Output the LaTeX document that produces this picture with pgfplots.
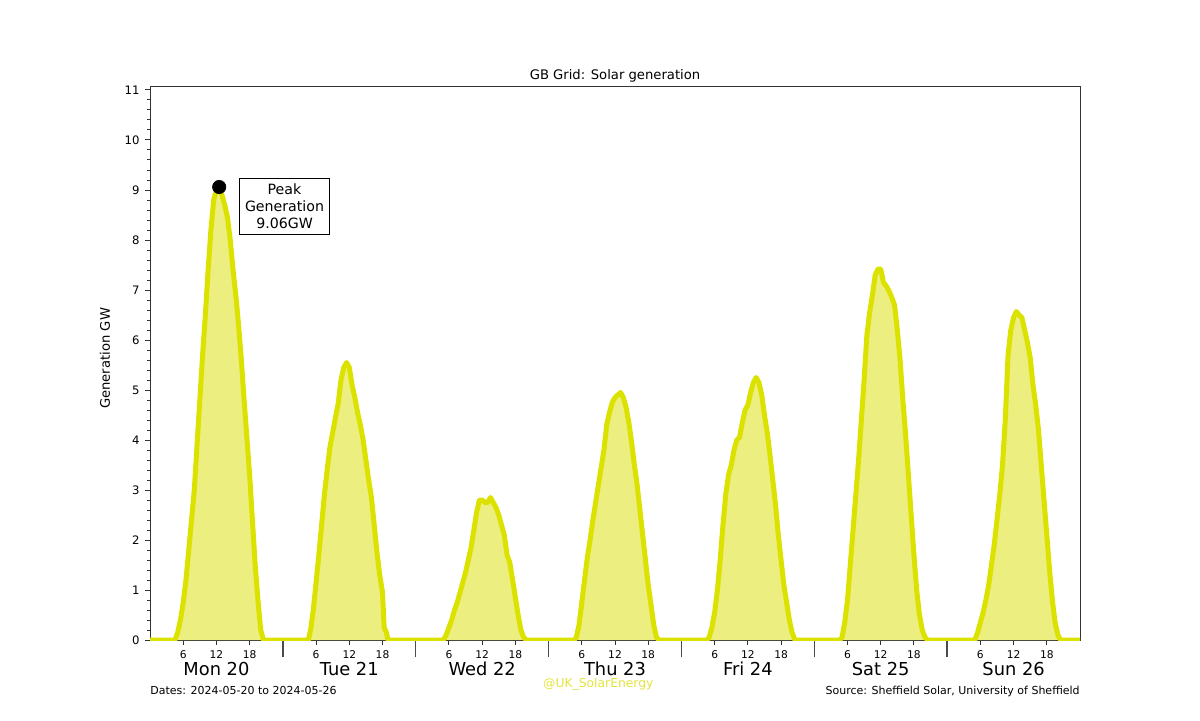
\documentclass[border=0pt]{standalone}
\usepackage{pgfplots}
\pgfplotsset{compat=1.18}
\usepackage{fontspec}
\setmainfont{DejaVu Sans}
\definecolor{solline}{RGB}{220,226,0}
\definecolor{solfill}{RGB}{237,238,128}
\definecolor{wmark}{RGB}{226,228,60}
\pgfplotstableread{
h gw
0 0
4.5 0
5 0.15
5.5 0.4
6 0.75
6.5 1.2
7 1.8
7.5 2.4
8 3.0
8.5 3.9
9 4.8
9.5 5.7
10 6.5
10.5 7.4
11 8.2
11.5 8.8
12 9.0
12.5 9.06
13 8.9
13.5 8.7
14 8.45
14.5 8.0
15 7.4
15.5 6.9
16 6.3
16.5 5.6
17 4.8
17.5 4.05
18 3.3
18.5 2.4
19 1.5
19.5 0.8
20 0.2
20.5 0
28.6 0
29 0.2
29.5 0.6
30 1.15
30.5 1.7
31 2.3
31.5 2.9
32 3.4
32.5 3.85
33 4.15
33.5 4.45
34 4.73
34.5 5.2
35 5.45
35.5 5.55
36 5.45
36.5 5.1
37 4.85
37.5 4.55
38 4.3
38.5 4.0
39 3.6
39.5 3.2
40 2.85
40.5 2.3
41 1.75
41.5 1.3
42 0.95
42.3 0.25
42.7 0.15
43 0
53 0
53.5 0.1
54 0.25
54.5 0.4
55 0.6
55.5 0.75
56 0.95
56.5 1.15
57 1.35
57.5 1.6
58 1.85
58.5 2.2
59 2.55
59.5 2.8
60 2.8
60.5 2.75
61 2.75
61.5 2.85
62 2.75
62.5 2.65
63 2.5
63.5 2.3
64 2.1
64.5 1.7
65 1.55
65.5 1.2
66 0.85
66.5 0.5
67 0.2
67.5 0.05
68 0
76.6 0
77 0.05
77.5 0.3
78 0.75
78.5 1.2
79 1.65
79.5 2.0
80 2.4
80.5 2.75
81 3.1
81.5 3.45
82 3.8
82.5 4.3
83 4.55
83.5 4.75
84 4.85
84.5 4.9
85 4.95
85.5 4.85
86 4.65
86.5 4.35
87 3.95
87.5 3.5
88 3.1
88.5 2.6
89 2.1
89.5 1.6
90 1.1
90.5 0.7
91 0.3
91.5 0.05
92 0
100.6 0
101 0.05
101.5 0.25
102 0.55
102.5 1.0
103 1.6
103.5 2.3
104 2.9
104.5 3.3
105 3.5
105.5 3.8
106 4.0
106.5 4.05
107 4.35
107.5 4.6
108 4.7
108.5 4.95
109 5.15
109.5 5.25
110 5.15
110.5 4.9
111 4.5
111.5 4.15
112 3.7
112.5 3.2
113 2.7
113.5 2.1
114 1.6
114.5 1.1
115 0.75
115.5 0.4
116 0.15
116.5 0
124.6 0
125 0.05
125.5 0.35
126 0.8
126.5 1.5
127 2.2
127.5 2.9
128 3.6
128.5 4.4
129 5.2
129.5 6.1
130 6.55
130.5 6.9
131 7.3
131.5 7.42
132 7.42
132.5 7.15
133 7.08
133.5 6.98
134 6.85
134.5 6.7
135 6.2
135.5 5.6
136 4.8
136.5 4.1
137 3.3
137.5 2.5
138 1.7
138.5 1.0
139 0.5
139.5 0.2
140 0.05
140.5 0
149 0
149.5 0.15
150 0.35
150.5 0.55
151 0.8
151.5 1.1
152 1.5
152.5 1.9
153 2.4
153.5 2.9
154 3.5
154.5 4.4
155 5.7
155.5 6.2
156 6.45
156.5 6.57
157 6.5
157.5 6.45
158 6.2
158.5 5.95
159 5.65
159.5 5.1
160 4.7
160.5 4.2
161 3.5
161.5 2.8
162 2.1
162.5 1.4
163 0.8
163.5 0.35
164 0.1
164.5 0
168 0
}\soldata
\begin{document}
\begin{tikzpicture}
\useasboundingbox (0,0) rectangle (720pt,432pt);
\begin{axis}[
  at={(90pt,48pt)}, anchor=south west,
  scale only axis, width=558pt, height=331.8pt,
  xmin=0, xmax=168, ymin=0, ymax=11.06,
  clip mode=individual,
  axis line style={line width=0.6pt, black!80},
  tick align=outside,
  tick style={line width=0.6pt, black!80},
  xtick={6,12,18,30,36,42,54,60,66,78,84,90,102,108,114,126,132,138,150,156,162},
  xticklabels={6,12,18,6,12,18,6,12,18,6,12,18,6,12,18,6,12,18,6,12,18},
  major tick length=2.8pt,
  extra x ticks={24,48,72,96,120,144},
  extra x tick labels={},
  extra x tick style={major tick length=10pt, tick style={line width=0.9pt, black!70}},
  xtick pos=bottom, ytick pos=left,
  ytick={0,1,...,11},
  minor y tick num=4,
  minor tick length=1.6pt,
  xticklabel style={font=\fontsize{6.4pt}{7pt}\selectfont, yshift=0pt},
  yticklabel style={font=\fontsize{7pt}{8pt}\selectfont},
  /pgf/number format/assume math mode=true,
]
\addplot[draw=none, fill=solfill] table[x=h, y=gw] {\soldata} \closedcycle;
\addplot[solline, line width=3pt, line join=round] table[x=h, y=gw] {\soldata};
\addplot[only marks, mark=*, mark size=4pt, black] coordinates {(12.5,9.06)};
\node[draw=black, line width=0.6pt, fill=white, align=center, font=\fontsize{8.5pt}{10.2pt}\selectfont, inner sep=3.5pt] at (axis cs:24.3,8.67) {Peak\\Generation\\ 9.06GW};
\node[anchor=base, font=\fontsize{10.7pt}{12pt}\selectfont, yshift=-21pt] at (axis cs:12,0) {Mon 20};
\node[anchor=base, font=\fontsize{10.7pt}{12pt}\selectfont, yshift=-21pt] at (axis cs:36,0) {Tue 21};
\node[anchor=base, font=\fontsize{10.7pt}{12pt}\selectfont, yshift=-21pt] at (axis cs:60,0) {Wed 22};
\node[anchor=base, font=\fontsize{10.7pt}{12pt}\selectfont, yshift=-21pt] at (axis cs:84,0) {Thu 23};
\node[anchor=base, font=\fontsize{10.7pt}{12pt}\selectfont, yshift=-21pt] at (axis cs:108,0) {Fri 24};
\node[anchor=base, font=\fontsize{10.7pt}{12pt}\selectfont, yshift=-21pt] at (axis cs:132,0) {Sat 25};
\node[anchor=base, font=\fontsize{10.7pt}{12pt}\selectfont, yshift=-21pt] at (axis cs:156,0) {Sun 26};
\end{axis}
\node[anchor=base, font=\fontsize{7.9pt}{9pt}\selectfont] at (369pt,384pt) {GB Grid: Solar generation};
\node[rotate=90, font=\fontsize{7.9pt}{9pt}\selectfont] at (63pt,217pt) {Generation GW};
\node[anchor=base west, inner sep=0pt, font=\fontsize{6.6pt}{8pt}\selectfont] at (90pt,15.6pt) {Dates: 2024-05-20 to 2024-05-26};
\node[anchor=base east, inner sep=0pt, font=\fontsize{6.6pt}{8pt}\selectfont] at (648pt,15.6pt) {Source: Sheffield Solar, University of Sheffield};
\node[anchor=base, inner sep=0pt, text=wmark, font=\fontsize{7.4pt}{8pt}\selectfont] at (359pt,19.5pt) {@UK\_SolarEnergy};
\end{tikzpicture}
\end{document}
